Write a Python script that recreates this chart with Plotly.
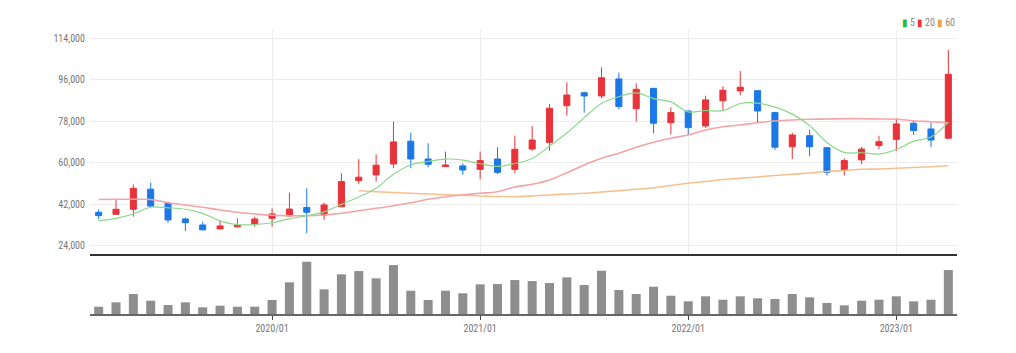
import pandas as pd
import plotly.graph_objects as go

months = list(pd.date_range("2019-03-01", periods=50, freq="MS").strftime("%Y/%m"))

opens = [38600, 37750, 39900, 48600, 42500, 35700, 33100, 31400, 32300, 33400,
         36000, 37000, 40700, 37400, 41000, 52300, 54800, 59500, 69400, 61700,
         58400, 58700, 57200, 61700, 57200, 66000, 68900, 84800, 90400, 89000,
         96400, 83500, 92300, 77400, 82500, 76000, 86900, 91200, 91300, 81800,
         67000, 71800, 66600, 56900, 61300, 67500, 70200, 77200, 74700, 70700]
highs = [39900, 43900, 50700, 51400, 43200, 36300, 34500, 35000, 36000, 36700,
         40300, 47100, 49000, 42800, 55500, 61600, 63700, 77900, 73100, 68500,
         64900, 59800, 64900, 66800, 71800, 76000, 85500, 94900, 90900, 101400,
         99100, 94500, 92500, 84100, 82700, 89100, 93200, 99800, 91600, 82000,
         73100, 74300, 66800, 62000, 67000, 71700, 79300, 78300, 77400, 108900]
lows = [35600, 37500, 36700, 41000, 34100, 30500, 30800, 31200, 32000, 32400,
        32400, 36800, 29500, 35300, 40800, 50900, 51900, 57700, 57700, 58100,
        58200, 54800, 52900, 55200, 55500, 65300, 65300, 80500, 81800, 88000,
        83200, 77900, 72800, 72400, 72100, 75200, 82800, 89400, 77200, 65600,
        61700, 63000, 54500, 54500, 59400, 66000, 65200, 72100, 66800, 70500]
closes = [37150, 39900, 49000, 41300, 35300, 34100, 31000, 32700, 33000, 35700,
          37900, 40000, 38600, 41800, 51900, 53800, 59000, 69100, 61700, 59400,
          59100, 56900, 61000, 55900, 65900, 69900, 83700, 89400, 89000, 96900,
          84400, 91900, 77200, 81800, 75300, 87300, 91500, 92800, 82500, 66800,
          72100, 67000, 55900, 61000, 66000, 69200, 76900, 74000, 69900, 98400]

ma5 = [34960, 36000, 37870, 40770, 40530, 39920, 38140, 34880, 33220, 33300,
       34060, 35860, 37040, 38800, 42040, 45220, 49020, 55120, 59100, 60600,
       61660, 61240, 59620, 58460, 59760, 61920, 67280, 72960, 79580, 85780,
       88680, 90320, 87880, 86440, 82120, 82700, 82620, 85740, 85880, 84180,
       81140, 76240, 68860, 64560, 64400, 63820, 65800, 69420, 71200, 77680]
ma20 = [44150, 44230, 44230, 44150, 42760, 41770, 40770, 39600, 38600, 37870,
        37300, 37130, 37130, 37430, 38170, 39300, 40340, 41460, 42760, 44230,
        45360, 46100, 46830, 47530, 49560, 50730, 52600, 55760, 59100, 62000,
        64170, 66770, 68930, 70670, 72100, 74260, 75690, 76430, 77430, 78160,
        78600, 78900, 79030, 79160, 79160, 79030, 78900, 78290, 77860, 77430]
ma60 = [None] * 15 + [47960, 47530, 47180, 46830, 46530, 46230, 45970, 45670, 45450, 45360,
                      45670, 46100, 46530, 46830, 47400, 47960, 48570, 49260, 50210, 51170,
                      51950, 52810, 53330, 53900, 54550, 55070, 55630, 56280, 56710, 57230,
                      57360, 57670, 58010, 58360, 58790]
volume = [7.3, 11.7, 20, 13.3, 9, 11.7, 6.7, 8.3, 7.3, 7.3,
          14, 31.7, 52.3, 24.7, 39.7, 43, 35.7, 49, 23.3, 14,
          23.3, 20.7, 29.7, 30, 34, 33, 31, 36.7, 29, 43.3,
          24, 20, 27.3, 18.3, 12.7, 17.7, 14.3, 17.7, 15.7, 15,
          20, 16.7, 11, 8.7, 13.3, 14.3, 17.7, 12.7, 14.3, 44]

year_ticks = ["2020/01", "2021/01", "2022/01", "2023/01"]
price_ticks = [24000, 42000, 60000, 78000, 96000, 114000]

FONT = "Liberation Sans Narrow, Roboto Condensed, Roboto, sans-serif"
RED = "#e8333b"
BLUE = "#1c78e6"

fig = go.Figure()
fig.add_trace(go.Scatter(x=months, y=ma60, mode="lines", line=dict(color="#f6c08e", width=1.6, shape="spline"),
                         xaxis="x", yaxis="y", hoverinfo="skip"))
fig.add_trace(go.Scatter(x=months, y=ma20, mode="lines", line=dict(color="#f4a3a6", width=1.6, shape="spline"),
                         xaxis="x", yaxis="y", hoverinfo="skip"))
fig.add_trace(go.Scatter(x=months, y=ma5, mode="lines", line=dict(color="#8ad88a", width=1.2, shape="spline"),
                         xaxis="x", yaxis="y", hoverinfo="skip"))
fig.add_trace(go.Candlestick(x=months, open=opens, high=highs, low=lows, close=closes,
                             increasing=dict(line=dict(color=RED, width=1), fillcolor=RED),
                             decreasing=dict(line=dict(color=BLUE, width=1), fillcolor=BLUE),
                             whiskerwidth=0, xaxis="x", yaxis="y"))
fig.add_trace(go.Bar(x=months, y=volume, marker=dict(color="#8e8e8e", line=dict(width=0)),
                     xaxis="x2", yaxis="y2"))

fig.update_layout(
    width=1016, height=353,
    margin=dict(l=90, r=59, t=30, b=39),
    paper_bgcolor="white", plot_bgcolor="white",
    showlegend=False,
    boxgap=0.5, bargap=0.48,
    font=dict(family=FONT, size=10, color="#777777"),
    xaxis=dict(type="category", range=[-0.5, 49.5], anchor="y", matches="x2",
               tickvals=year_ticks, showticklabels=False, showgrid=True,
               gridcolor="#ececec", gridwidth=1, showline=True, linecolor="#333333", linewidth=2,
               zeroline=False, rangeslider=dict(visible=False), ticks=""),
    yaxis=dict(domain=[0.2113, 1], range=[20530, 117590], tickvals=price_ticks,
               tickformat=",d", showgrid=True, gridcolor="#ececec", zeroline=False,
               showline=False, ticks="", ticklabelstandoff=4),
    xaxis2=dict(type="category", range=[-0.5, 49.5], anchor="y2",
                tickvals=year_ticks, ticktext=year_ticks, showgrid=False,
                showline=True, linecolor="#666666", linewidth=2,
                ticks="outside", ticklen=4, tickcolor="#444444", tickwidth=1,
                zeroline=False),
    yaxis2=dict(domain=[0, 0.204], range=[0, 58], showticklabels=False, showgrid=False,
                zeroline=False, showline=False),
    annotations=[dict(
        xref="paper", yref="paper", x=1.0, y=1.028, xanchor="right", yanchor="middle",
        showarrow=False, font=dict(family=FONT, size=10, color="#888888"),
        text=("<span style='color:#22bb33'>▮</span>\u20095 "
              "<span style='color:#ee3333'>▮</span>\u200920 "
              "<span style='color:#f0a040'>▮</span>\u200960"))],
)

fig.write_html("out.html")
